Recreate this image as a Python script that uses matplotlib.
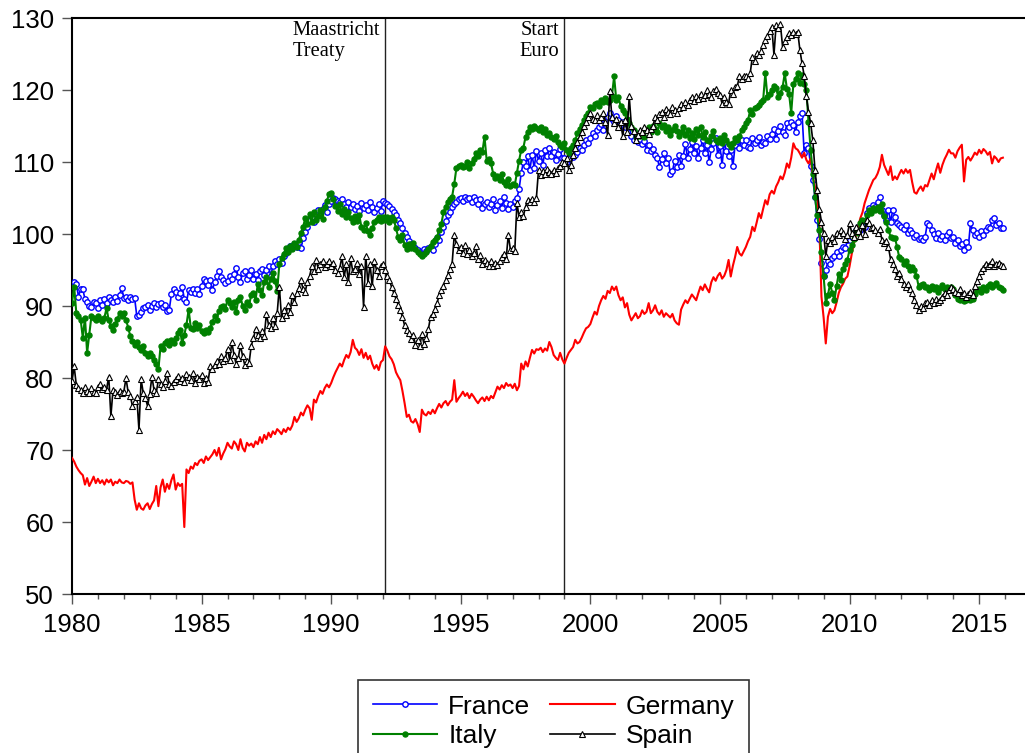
import numpy as np
import matplotlib
matplotlib.use("Agg")
import matplotlib.pyplot as plt
from matplotlib.ticker import MultipleLocator

start_year = 1980
series_names = ["France", "Germany", "Italy", "Spain"]

france = [
    93.2, 93.4, 93.1, 91.3, 92.4, 92.3, 91.0, 90.5, 90.0, 89.8, 90.6, 90.4,
    89.7, 90.8, 90.2, 91.0, 90.4, 91.3, 90.9, 90.6, 91.2, 90.7, 91.5, 92.5,
    91.1, 91.3, 90.8, 91.2, 91.0, 91.1, 88.6, 88.8, 89.2, 89.7, 89.9, 90.2,
    89.5, 90.0, 90.4, 89.9, 90.3, 90.4, 89.9, 90.2, 89.3, 89.4, 91.6, 92.3,
    92.0, 91.3, 91.8, 92.7, 91.0, 90.5, 92.2, 92.0, 92.4, 91.8, 92.3, 91.7,
    92.8, 93.7, 93.5, 92.9, 93.6, 92.2, 93.3, 94.1, 94.8, 94.0, 93.6, 93.2,
    93.5, 94.2, 93.8, 94.5, 95.3, 94.0, 93.4, 94.6, 94.9, 93.7, 94.3, 95.0,
    93.8, 94.5, 93.6, 94.8, 95.2, 94.3, 95.0, 95.6, 94.2, 95.5, 96.3, 95.8,
    96.5, 96.0, 97.0, 97.4, 97.8, 98.3, 98.0, 98.6, 98.2, 98.9, 98.0, 99.5,
    100.3, 101.0, 101.9, 102.4, 101.6, 102.8, 103.4, 102.6, 103.5, 104.0, 103.1, 104.2,
    104.6, 105.0, 104.8, 104.6, 104.4, 104.9, 104.2, 103.8, 104.5, 103.7, 104.1, 103.5,
    103.9, 103.2, 104.3, 103.6, 104.0, 103.4, 104.4, 103.8, 103.0, 103.6, 104.1, 103.2,
    104.6, 104.3, 104.1, 103.9, 103.5, 103.0, 102.6, 101.9, 101.5, 100.8, 100.1, 99.6,
    99.0, 98.6, 98.3, 98.1, 97.8, 97.5, 97.3, 97.9, 97.6, 98.0, 98.2, 97.8,
    98.6, 99.5, 99.2, 100.3, 101.0, 101.8, 102.6, 103.1, 103.8, 104.2, 104.5, 104.8,
    105.0, 104.6, 105.2, 104.8, 105.0, 104.5, 105.1, 104.7, 104.2, 104.9, 103.6, 104.1,
    104.5, 103.8, 104.2, 104.8, 103.4, 104.0, 104.6, 103.6, 105.2, 104.3, 103.5, 104.1,
    103.8, 104.6, 105.0, 106.2, 108.5, 110.0, 109.4, 110.8, 108.9, 111.0, 109.2, 111.5,
    110.2, 111.3, 109.6, 111.6, 110.8, 111.9, 110.9, 111.4, 110.3, 111.1, 111.8, 110.5,
    110.6, 110.0, 110.4, 111.2, 110.7, 111.0, 111.4, 112.0, 111.6, 112.4, 113.0, 112.6,
    113.4, 114.0, 113.6, 114.4, 114.8, 115.3, 114.5, 115.8, 116.2, 116.8, 116.0, 115.5,
    116.4, 115.8, 115.0, 115.5, 114.9, 115.3, 114.8, 113.6, 113.0, 113.5, 112.8, 113.2,
    112.5, 112.9, 111.7, 112.3, 111.5, 111.8, 111.0, 110.5, 109.3, 110.4, 111.2, 109.8,
    110.5, 108.4, 108.7, 110.2, 109.3, 111.0, 109.5, 110.8, 112.5, 110.6, 111.8, 112.8,
    111.3, 112.2, 110.6, 112.0, 113.0, 111.2, 112.4, 110.0, 111.8, 112.6, 113.3, 111.0,
    112.2, 109.6, 112.8, 111.5, 110.8, 111.6, 109.4, 112.3, 112.9, 112.0, 113.1, 112.3,
    113.0, 112.1, 111.9, 113.4, 112.6, 113.0, 113.5, 112.3, 112.8, 112.6, 113.6, 113.2,
    113.9, 114.6, 113.2, 114.3, 115.0, 114.1, 113.8, 115.4, 114.8, 115.6, 115.1, 114.2,
    115.5, 116.4, 116.8, 111.2, 112.4, 111.9, 109.5, 107.5, 105.2, 102.0, 99.3, 96.0,
    94.1, 95.0, 96.2, 95.8, 96.6, 96.9, 97.5, 97.0, 97.8, 98.2, 98.0, 99.1,
    99.2, 99.6, 100.2, 100.5, 101.0, 100.6, 101.3, 101.0, 102.9, 103.6, 103.2, 104.0,
    103.8, 104.5, 105.2, 103.3, 102.7, 102.0, 103.4, 101.7, 103.3, 102.4, 101.5, 101.2,
    101.0, 100.7, 101.3, 100.2, 100.5, 100.1, 99.6, 99.8, 99.3, 99.5, 99.2, 99.6,
    101.5, 101.2, 100.5, 100.0, 99.5, 100.2, 99.3, 99.7, 99.2, 99.9, 100.3, 99.5,
    99.6, 98.8, 99.2, 98.4, 98.6, 97.8, 98.9, 98.2, 101.5, 100.5, 99.8, 100.2,
    99.6, 100.4, 99.8, 100.6, 101.0, 100.8, 102.0, 102.2, 101.3, 101.5, 100.8, 100.9,
]

germany = [
    68.9, 68.4, 67.7, 67.2, 66.8, 66.5, 65.2, 66.1, 65.0, 65.6, 66.3, 65.4,
    66.0, 65.4, 65.8, 65.2, 65.9, 65.5, 65.9, 65.1, 65.6, 65.4, 65.9, 65.5,
    65.4, 65.7, 65.6, 65.3, 65.5, 63.1, 61.7, 62.6, 61.9, 61.7, 62.3, 62.6,
    61.8, 62.5, 63.0, 65.0, 62.2, 64.8, 65.9, 64.2, 65.3, 64.6, 65.8, 66.6,
    64.5, 65.4, 65.0, 65.3, 59.3, 67.3, 66.8, 67.7, 67.4, 68.2, 67.9, 68.5,
    68.7, 68.2, 69.1, 68.6, 69.0, 69.4, 70.0, 69.2, 70.3, 68.7, 69.5, 70.1,
    71.0, 70.5, 70.2, 71.2, 70.8, 70.0, 71.5, 70.3, 69.8, 71.0, 70.6, 70.9,
    70.4, 71.2, 70.8, 71.8, 71.0, 72.1, 71.5, 72.4, 71.8, 72.6, 72.2, 72.9,
    72.6, 72.2, 72.9, 72.5, 73.1, 72.8, 73.4, 74.6, 73.9, 74.4, 75.2, 74.8,
    75.6, 76.2, 75.8, 74.2, 77.0, 76.6, 77.5, 78.2, 77.8, 78.6, 79.1, 78.7,
    79.3, 80.1, 80.8, 81.4, 82.0, 81.6, 82.5, 83.2, 82.8, 83.6, 85.3, 84.2,
    83.9, 83.2, 84.0, 82.8, 83.5, 82.6, 83.1, 82.0, 81.3, 81.8, 81.1, 82.2,
    82.5, 84.4, 83.8, 83.0, 82.6, 81.9, 80.8, 80.2, 79.7, 78.2, 76.5, 74.6,
    74.9, 74.0, 73.8, 74.3, 73.6, 72.5, 75.6, 75.0, 74.8, 75.3, 75.0, 75.6,
    75.1, 75.8, 76.4, 75.9, 76.5, 76.8, 76.2, 76.7, 77.0, 79.7, 76.7, 77.2,
    77.6, 78.1, 77.5, 77.9, 77.2, 77.8, 77.4, 76.9, 76.5, 77.0, 77.3, 76.8,
    77.4, 76.9, 77.5, 77.2, 78.0, 78.8, 78.4, 79.0, 78.6, 79.3, 78.9, 79.1,
    78.6, 79.2, 78.3, 78.9, 82.0, 81.2, 82.3, 81.6, 82.8, 83.9, 83.4, 84.0,
    83.9, 84.2, 83.6, 84.1, 83.8, 85.0, 84.3, 83.2, 82.8, 82.5, 83.5, 82.6,
    82.0, 82.8, 83.5, 83.9, 84.3, 85.3, 84.8, 85.0, 85.6, 86.3, 86.9, 87.1,
    87.5, 88.4, 89.2, 88.8, 90.0, 90.8, 91.4, 91.0, 92.1, 91.8, 92.7, 92.2,
    92.7, 91.5, 90.8, 91.2, 89.8, 90.4, 88.8, 88.0, 88.5, 89.0, 88.3, 88.6,
    89.4, 88.9, 89.2, 90.4, 89.0, 89.4, 90.1, 89.2, 88.8, 89.4, 88.5, 89.0,
    88.7, 88.4, 88.9, 88.0, 87.6, 87.4, 89.5, 90.2, 90.8, 90.4, 91.0, 91.6,
    91.2, 90.8, 91.8, 92.7, 92.2, 93.0, 92.4, 91.9, 93.3, 94.0, 93.5, 94.2,
    94.6, 93.8, 94.2, 95.0, 96.4, 94.1, 95.6, 96.8, 98.2, 97.3, 97.0, 97.6,
    98.2, 99.0, 99.6, 101.0, 100.4, 101.6, 102.9, 102.2, 103.5, 104.7, 104.1, 105.5,
    106.0, 105.6, 106.6, 107.2, 108.0, 107.6, 108.5, 109.8, 109.2, 110.6, 112.6, 111.9,
    111.7, 111.2, 110.6, 111.3, 110.3, 109.8, 110.5, 108.0, 106.5, 105.2, 101.5, 91.3,
    88.4, 84.8, 88.5, 89.6, 89.0, 89.4, 90.5, 91.8, 92.6, 93.1, 93.8, 94.1,
    95.5, 97.2, 98.7, 99.8, 101.0, 102.2, 103.0, 104.3, 105.2, 106.1, 106.8, 107.5,
    107.8, 108.4, 109.3, 111.0, 109.6, 108.9, 108.2, 109.4, 107.5, 108.0, 107.6, 108.3,
    108.9, 108.4, 109.0, 108.5, 108.9, 107.2, 105.8, 105.6, 106.2, 106.6, 106.0, 106.8,
    106.6, 107.5, 108.4, 107.6, 108.8, 109.8, 108.5, 109.6, 110.4, 111.0, 111.7, 111.2,
    111.2, 110.6, 111.5, 112.0, 112.4, 107.3, 110.3, 110.7, 110.2, 110.7, 111.3, 111.0,
    111.7, 111.2, 111.8, 111.5, 111.0, 111.4, 109.8, 110.8, 110.5, 110.0, 110.5, 110.6,
]

italy = [
    90.4, 92.7, 89.0, 88.6, 88.1, 85.6, 88.4, 83.5, 86.0, 88.6, 88.3, 88.1,
    88.6, 88.2, 87.9, 88.4, 89.7, 88.0, 87.2, 86.7, 87.5, 88.2, 89.0, 88.6,
    89.0, 88.1, 87.0, 85.8, 85.2, 84.6, 85.0, 84.3, 83.9, 84.5, 83.5, 83.0,
    83.5, 83.1, 82.5, 82.0, 81.2, 84.4, 84.0, 84.8, 85.1, 84.6, 85.3, 84.9,
    85.5, 86.2, 86.7, 84.8, 86.0, 87.4, 89.5, 87.0, 86.8, 87.6, 86.9, 87.3,
    86.5, 86.2, 86.7, 86.4, 87.0, 87.8, 88.6, 88.1, 89.3, 89.8, 90.0, 89.6,
    90.9, 90.4, 89.8, 90.5, 89.2, 90.8, 91.3, 90.0, 89.4, 90.6, 90.2, 91.5,
    91.8, 90.9, 93.0, 92.2, 91.5, 93.4, 94.0, 92.6, 93.8, 94.6, 93.5, 92.1,
    95.8, 96.6, 97.2, 98.0, 97.5, 98.4, 97.9, 98.7, 98.2, 99.1, 100.2, 101.0,
    102.2, 101.4, 102.8, 101.7, 103.0, 101.9, 102.5, 103.3, 102.1, 103.8, 104.6, 105.5,
    105.7, 104.8, 103.9, 103.2, 104.1, 102.8, 103.5, 102.4, 103.0, 102.2, 101.6, 102.5,
    101.8, 102.6, 101.0, 100.6, 101.5, 100.4, 99.9, 100.8, 101.6, 102.0, 102.4, 101.8,
    102.4, 102.0, 102.3, 101.7, 102.4, 102.0, 100.8, 99.6, 99.2, 99.8, 98.5, 97.9,
    98.6, 98.0, 98.8, 97.9, 97.5, 97.2, 96.9, 97.2, 97.5, 97.9, 98.4, 98.9,
    99.2, 99.6, 100.5, 101.4, 103.0, 103.8, 104.5, 104.9, 105.2, 107.0, 109.2, 109.4,
    109.6, 109.3, 109.5, 110.0, 109.2, 109.8, 110.4, 111.2, 110.8, 111.7, 111.4, 113.5,
    110.2, 110.4, 109.8, 108.4, 107.8, 108.0, 107.5, 108.3, 107.2, 106.8, 107.6, 106.6,
    107.0, 106.8, 108.5, 110.2, 111.7, 112.0, 113.5, 114.2, 114.9, 114.6, 115.0, 114.7,
    114.5, 114.9, 114.2, 114.6, 113.8, 114.0, 113.5, 113.2, 113.6, 112.8, 112.4, 112.1,
    112.6, 111.7, 111.2, 111.9, 112.3, 113.0, 114.0, 114.6, 115.2, 115.8, 116.4, 116.8,
    117.7, 117.5, 118.0, 118.2, 117.8, 118.6, 118.4, 118.9, 118.3, 118.6, 119.2, 121.9,
    118.6, 119.0, 117.8, 117.2, 116.8, 116.0, 115.4, 114.9, 114.5, 113.5, 114.0, 113.6,
    114.0, 113.5, 114.4, 114.8, 114.2, 115.0, 114.6, 114.1, 115.4, 114.8, 115.2, 114.3,
    114.9, 113.8, 114.5, 115.0, 114.3, 113.6, 114.2, 114.8, 113.7, 114.5, 113.3, 114.0,
    113.2, 114.6, 113.8, 114.9, 113.5, 114.2, 113.0, 112.9, 113.6, 114.3, 113.1, 112.8,
    113.4, 112.6, 113.8, 113.0, 112.5, 112.1, 112.6, 113.4, 113.1, 113.6, 114.4, 114.9,
    115.4, 115.8, 117.2, 116.6, 117.5, 117.7, 117.9, 118.3, 118.6, 122.3, 119.0, 119.4,
    120.0, 120.5, 120.3, 119.0, 119.6, 120.4, 122.3, 120.2, 119.5, 116.8, 120.9, 121.5,
    122.3, 121.0, 122.1, 120.8, 120.0, 115.6, 111.7, 108.4, 105.2, 102.6, 100.6, 97.5,
    94.1, 90.4, 91.5, 93.1, 91.8, 90.8, 92.8, 94.5, 93.6, 95.2, 95.9, 96.4,
    97.8, 98.5, 99.3, 100.6, 100.2, 101.5, 102.0, 101.8, 102.6, 103.3, 102.9, 103.6,
    103.3, 103.8, 103.2, 104.1, 102.5, 101.7, 100.6, 99.6, 99.4, 99.5, 98.2, 96.8,
    96.5, 95.9, 96.3, 95.5, 95.0, 95.4, 95.0, 94.2, 92.7, 92.9, 93.0, 92.7,
    92.6, 92.2, 92.8, 92.4, 92.7, 92.0, 92.5, 92.9, 92.3, 92.6, 92.2, 92.7,
    92.3, 91.5, 91.0, 90.8, 91.2, 90.7, 90.9, 91.3, 90.8, 91.0, 91.6, 92.2,
    92.4, 92.0, 92.6, 92.2, 92.8, 93.1, 92.6, 92.9, 93.2, 92.7, 92.5, 92.2,
]

spain = [
    79.6, 81.6, 79.0, 78.6, 78.3, 77.9, 78.8, 78.2, 77.9, 78.6, 78.1, 77.9,
    78.8, 79.2, 78.5, 78.8, 78.4, 80.2, 74.7, 78.4, 78.0, 77.6, 78.2, 77.9,
    78.1, 80.0, 78.0, 77.5, 76.1, 76.8, 77.4, 72.8, 79.8, 77.9, 77.2, 76.1,
    77.8, 80.2, 78.3, 77.9, 79.8, 79.2, 78.8, 79.6, 80.7, 79.2, 78.9, 79.5,
    79.8, 80.3, 79.6, 80.0, 79.4, 80.5, 80.1, 79.7, 80.7, 79.3, 80.2, 79.8,
    80.4, 79.3, 80.0, 79.5, 81.6, 81.2, 81.8, 82.3, 82.0, 83.0, 82.4, 82.8,
    84.0, 82.5, 85.0, 83.2, 81.9, 82.8, 84.6, 83.0, 81.8, 82.3, 82.1, 84.5,
    85.5, 86.8, 86.0, 85.6, 86.5, 85.8, 88.9, 87.4, 87.0, 88.3, 87.2, 89.0,
    92.7, 88.4, 89.5, 88.8, 90.1, 89.2, 91.5, 90.6, 91.8, 92.5, 93.6, 92.3,
    92.0, 93.4, 94.1, 95.5, 94.8, 96.4, 95.2, 95.9, 96.2, 95.4, 95.8, 96.3,
    95.5, 96.0, 95.0, 94.6, 95.3, 96.9, 94.0, 95.8, 93.4, 96.6, 94.8, 95.2,
    96.0, 94.5, 95.5, 89.9, 97.0, 93.2, 95.8, 92.8, 96.3, 95.0, 94.2, 95.6,
    95.8, 95.0, 94.2, 93.6, 92.6, 91.8, 91.0, 90.2, 89.4, 88.5, 87.3, 86.7,
    86.2, 85.4, 86.0, 84.6, 85.3, 84.4, 86.1, 84.7, 85.5, 86.8, 88.5, 88.9,
    89.6, 90.4, 91.5, 92.2, 92.8, 93.6, 94.3, 95.1, 95.9, 99.9, 98.6, 97.8,
    98.2, 97.4, 98.5, 97.2, 97.8, 96.9, 97.3, 98.4, 96.5, 97.1, 95.8, 96.4,
    96.0, 95.6, 96.3, 95.5, 96.0, 95.7, 96.2, 96.8, 97.2, 96.5, 99.9, 97.8,
    98.0, 97.6, 104.3, 102.4, 103.0, 102.5, 103.8, 104.7, 104.4, 104.9, 104.5, 105.0,
    108.9, 108.2, 108.8, 108.4, 109.0, 108.6, 108.3, 108.9, 108.5, 109.2, 109.4, 110.0,
    109.8, 110.5, 108.9, 109.6, 111.0, 112.0, 112.8, 113.5, 114.2, 115.0, 115.6, 116.3,
    116.8, 116.0, 115.8, 116.5, 115.9, 116.3, 116.8, 115.6, 113.7, 119.8, 116.2, 115.4,
    116.0, 114.8, 115.5, 113.6, 115.9, 114.2, 119.1, 115.0, 114.3, 113.0, 113.7, 114.5,
    114.2, 114.8, 114.4, 113.9, 114.6, 115.0, 116.3, 115.8, 116.6, 117.0, 116.2, 117.3,
    117.0, 116.6, 117.7, 117.2, 116.8, 117.5, 118.1, 117.6, 118.4, 117.9, 118.6, 119.0,
    118.5, 119.2, 118.8, 119.5, 118.9, 119.3, 120.0, 119.4, 119.0, 119.8, 120.2, 119.6,
    119.3, 118.1, 119.0, 118.3, 118.1, 120.0, 119.5, 120.4, 120.5, 121.9, 121.5, 122.0,
    121.9, 121.6, 122.3, 124.6, 124.0, 125.1, 124.8, 125.4, 126.2, 127.0, 127.5, 128.2,
    128.8, 124.9, 129.0, 128.6, 129.1, 126.0, 126.8, 127.4, 127.9, 127.6, 128.1, 127.8,
    128.1, 125.6, 123.7, 122.0, 119.1, 117.0, 115.4, 113.0, 108.9, 106.1, 103.5, 101.7,
    100.1, 96.9, 99.2, 98.8, 99.6, 99.0, 100.2, 99.8, 100.6, 100.1, 99.3, 99.9,
    101.5, 100.2, 99.6, 101.0, 100.4, 99.7, 101.2, 100.0, 102.0, 101.5, 100.8, 101.0,
    100.5, 100.2, 100.7, 99.2, 98.7, 99.0, 98.2, 96.5, 95.9, 95.2, 94.1, 94.6,
    93.8, 93.1, 92.7, 93.0, 92.4, 91.8, 90.8, 90.2, 89.4, 90.0, 89.7, 90.4,
    90.6, 90.2, 90.8, 90.4, 91.0, 90.6, 90.9, 91.3, 91.8, 91.5, 92.2, 92.7,
    92.4, 92.0, 91.8, 92.3, 91.5, 91.8, 91.3, 91.6, 92.0, 91.5, 92.8, 93.5,
    94.1, 94.8, 95.3, 95.9, 95.6, 95.9, 96.2, 95.5, 95.9, 96.0, 95.7, 95.5,
]

event_dates = [1992 + 1 / 12, 1999.0]
event_labels = ["Maastricht\nTreaty", "Start\nEuro"]

x_ticks = [1980, 1985, 1990, 1995, 2000, 2005, 2010, 2015]
y_ticks = [50, 60, 70, 80, 90, 100, 110, 120, 130]

plt.rcParams["font.family"] = ["Liberation Sans", "DejaVu Sans"]

fig = plt.figure(figsize=(10.25, 7.53), dpi=100)
ax = fig.add_axes([72 / 1025, 1 - 594 / 753, 1 - 72 / 1025, 576 / 753])

t = start_year + np.arange(len(france)) / 12.0

ax.plot(t, france, color="#0000ff", lw=1.2, marker="o", ms=3.9,
        mfc="white", mec="#0000ff", mew=1.0, label="France", zorder=3)
ax.plot(t[:len(germany)], germany, color="#ff0000", lw=1.5, label="Germany", zorder=3)
ax.plot(t[:len(italy)], italy, color="#008000", lw=1.5, marker="o", ms=3.6,
        mfc="#008000", mec="#008000", label="Italy", zorder=3)
ax.plot(t[:len(spain)], spain, color="black", lw=1.2, marker="^", ms=4.3,
        mfc="white", mec="black", mew=0.8, label="Spain", zorder=4)

ax.set_xlim(1980, 2016.77)
ax.set_ylim(50, 130)

for xd, lab, ma in zip(event_dates, event_labels, ["left", "right"]):
    ax.axvline(xd, color="#222222", lw=1.0, zorder=2)
    ax.annotate(lab, xy=(xd, 130), xycoords="data",
                xytext=(-3.5, -2.5), textcoords="offset points",
                ha="right", va="top", multialignment=ma,
                fontsize=14.8, family=["Liberation Serif", "DejaVu Serif"],
                linespacing=1.1)

ax.set_xticks(x_ticks)
ax.set_xticklabels([str(v) for v in x_ticks])
ax.xaxis.set_minor_locator(MultipleLocator(1))
ax.set_yticks(y_ticks)
ax.set_yticklabels([str(v) for v in y_ticks])

ax.tick_params(axis="both", which="major", labelsize=18.5, direction="out",
               width=1.0, color="#555555")
ax.tick_params(axis="y", which="major", length=7, pad=6)
ax.tick_params(axis="x", which="major", length=7.5, pad=6)
ax.tick_params(axis="x", which="minor", length=3.5, width=1.0, color="#555555")

for side in ["left", "bottom", "top"]:
    ax.spines[side].set_linewidth(1.5)
    ax.spines[side].set_color("black")
ax.spines["right"].set_visible(False)

h, l = ax.get_legend_handles_labels()
order = [0, 2, 1, 3]
leg = fig.legend([h[i] for i in order], [l[i] for i in order],
                 loc="upper left", bbox_to_anchor=(358 / 1025, 1 - 680 / 753),
                 ncol=2, fontsize=19, frameon=True, fancybox=False,
                 edgecolor="black", handlelength=2.45, handletextpad=0.42,
                 columnspacing=0.75, borderpad=0.55, labelspacing=0.22,
                 borderaxespad=0, markerscale=1.0)
leg.get_frame().set_linewidth(1.2)

fig.savefig("out.png", dpi=100)
